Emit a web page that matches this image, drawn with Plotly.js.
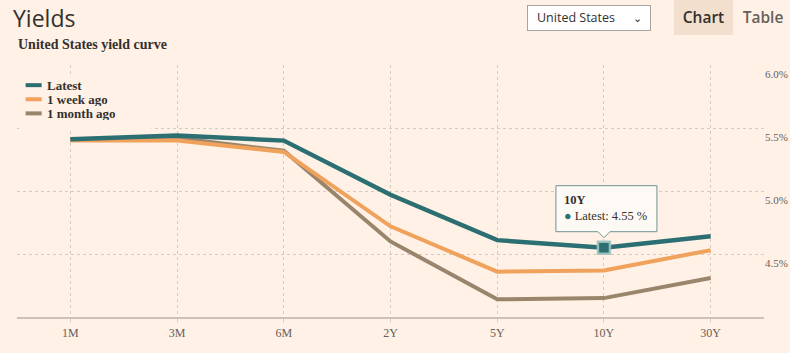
<!DOCTYPE html>
<html>
<head>
<meta charset="utf-8">
<script src="https://cdn.plot.ly/plotly-3.0.1.min.js"></script>
<style>
  html, body { margin:0; padding:0; background:#fff1e5; }
  #wrap { position:relative; width:790px; height:353px; overflow:hidden; background:#fff1e5; }
  #chart { position:absolute; left:0; top:0; width:790px; height:353px; }
  .hdr { position:absolute; font-family:"Open Sans", sans-serif; color:#33302e; }
  #title { left:13px; top:2px; font-size:23px; font-weight:400; }
  #sub { left:18px; top:37px; font-family:"Liberation Serif", serif; font-weight:700; font-size:14px; }
  #sel { left:527px; top:5px; width:124px; height:26px; box-sizing:border-box; background:#fff; border:1px solid #a8a39e; font-size:12.5px; line-height:24px; padding-left:9px; }
  #sel span.chev { position:absolute; right:8px; top:0; font-size:11px; }
  #chartbtn { left:674px; top:0; width:59px; height:35px; background:#f2dfce; font-size:15.5px; font-weight:600; line-height:35px; text-align:center; }
  #tablebtn { left:737px; top:0; width:52px; height:35px; font-size:15.5px; font-weight:600; line-height:35px; text-align:center; color:#66605c; }
</style>
</head>
<body>
<div id="wrap">
  <div id="chart"></div>
  <div class="hdr" id="title">Yields</div>
  <div class="hdr" id="sub">United States yield curve</div>
  <div class="hdr" id="sel">United States<span class="chev">&#8964;</span></div>
  <div class="hdr" id="chartbtn">Chart</div>
  <div class="hdr" id="tablebtn">Table</div>
</div>
<script>
// ---- data ----
const maturities = ["1M", "3M", "6M", "2Y", "5Y", "10Y", "30Y"];
const latest     = [5.41, 5.44, 5.40, 4.97, 4.61, 4.55, 4.64];
const weekAgo    = [5.40, 5.40, 5.31, 4.72, 4.36, 4.37, 4.53];
const monthAgo   = [5.41, 5.42, 5.32, 4.60, 4.14, 4.15, 4.31];
const seriesNames = ["Latest", "1 week ago", "1 month ago"];
const yTicks = [4.5, 5.0, 5.5, 6.0];
const yTickText = ["4.5%", "5.0%", "5.5%", "6.0%"];
const highlightIndex = 5;

const colors = ["#2c6f73", "#f0a25d", "#98856c"];
const widths = [4.5, 4, 4];
const serif = "Liberation Serif, serif";

const seriesData = [latest, weekAgo, monthAgo];
const traces = [];
for (let i = seriesData.length - 1; i >= 0; i--) {
  traces.push({
    type: "scatter", mode: "lines",
    x: maturities, y: seriesData[i], name: seriesNames[i],
    line: { color: colors[i], width: widths[i] },
    hoverinfo: "skip", showlegend: false
  });
}
traces.push({
  type: "scatter", mode: "markers",
  x: [maturities[highlightIndex]], y: [latest[highlightIndex]],
  marker: { symbol: "square", size: 12, color: colors[0], line: { color: "rgba(160,196,194,0.9)", width: 2.5 } },
  hoverinfo: "skip", showlegend: false
});

const shapes = [];
const annotations = [];
// legend background (covers gridlines)
shapes.push({ type: "rect", xref: "paper", yref: "paper", x0: 0.003, x1: 0.18, y0: 0.745, y1: 0.96,
  fillcolor: "#fff1e5", line: { width: 0 }, layer: "above" });
const legendY = [0.92, 0.864, 0.808];
seriesNames.forEach((n, i) => {
  shapes.push({ type: "line", xref: "paper", yref: "paper", x0: 0.0115, x1: 0.033, y0: legendY[i], y1: legendY[i],
    line: { color: colors[i], width: 4 }, layer: "above" });
  annotations.push({ xref: "paper", yref: "paper", x: 0.039, y: legendY[i], xanchor: "left", yanchor: "middle",
    height: 13, borderpad: 0, valign: "middle",
    text: "<b>" + n + "</b>", showarrow: false, font: { family: serif, size: 13, color: "#33302e" } });
});

// tooltip box with notch (pixel-sized, anchored at highlighted point)
shapes.push({ type: "path", xref: "x", yref: "y", xsizemode: "pixel", ysizemode: "pixel",
  xanchor: highlightIndex, yanchor: latest[highlightIndex],
  path: "M-48,16 L-6,16 L0,10 L6,16 L53,16 L53,62 L-48,62 Z",
  fillcolor: "rgba(253,250,246,0.95)", line: { color: "#6e9294", width: 1 }, layer: "above" });
annotations.push({ x: maturities[highlightIndex], y: latest[highlightIndex], xref: "x", yref: "y",
  xanchor: "left", yanchor: "top", xshift: -42, yshift: 57, align: "left", showarrow: false,
  text: "<b>" + maturities[highlightIndex] + "</b><br><span style='color:" + colors[0] + "'>●</span> " +
        seriesNames[0] + ": " + latest[highlightIndex].toFixed(2) + " %",
  font: { family: serif, size: 12.5, color: "#33302e" } });

const layout = {
  width: 790, height: 353,
  paper_bgcolor: "#fff1e5", plot_bgcolor: "#fff1e5",
  margin: { l: 17, r: 26, t: 65, b: 36 },
  showlegend: false, hovermode: false,
  xaxis: {
    type: "category", range: [-0.5, 6.5], fixedrange: true,
    showgrid: true, gridcolor: "#d6cbc1", griddash: "dot", gridwidth: 1,
    showline: true, linecolor: "#ccc1b7", linewidth: 2,
    ticks: "outside", ticklen: 4, tickcolor: "#ddd3ca", tickwidth: 1,
    tickfont: { family: serif, size: 12, color: "#66605c" }, zeroline: false
  },
  yaxis: {
    range: [4.0, 6.0], side: "right", fixedrange: true,
    tickmode: "array", tickvals: yTicks, ticktext: yTickText,
    showgrid: true, gridcolor: "#d6cbc1", griddash: "dot", gridwidth: 1,
    showline: false, zeroline: false, ticks: "",
    ticklabelshift: 9, ticklabelstandoff: 0,
    tickfont: { family: serif, size: 11, color: "#66605c" }
  },
  shapes: shapes, annotations: annotations
};

Plotly.newPlot("chart", traces, layout, { displayModeBar: false, staticPlot: true });
</script>
</body>
</html>
